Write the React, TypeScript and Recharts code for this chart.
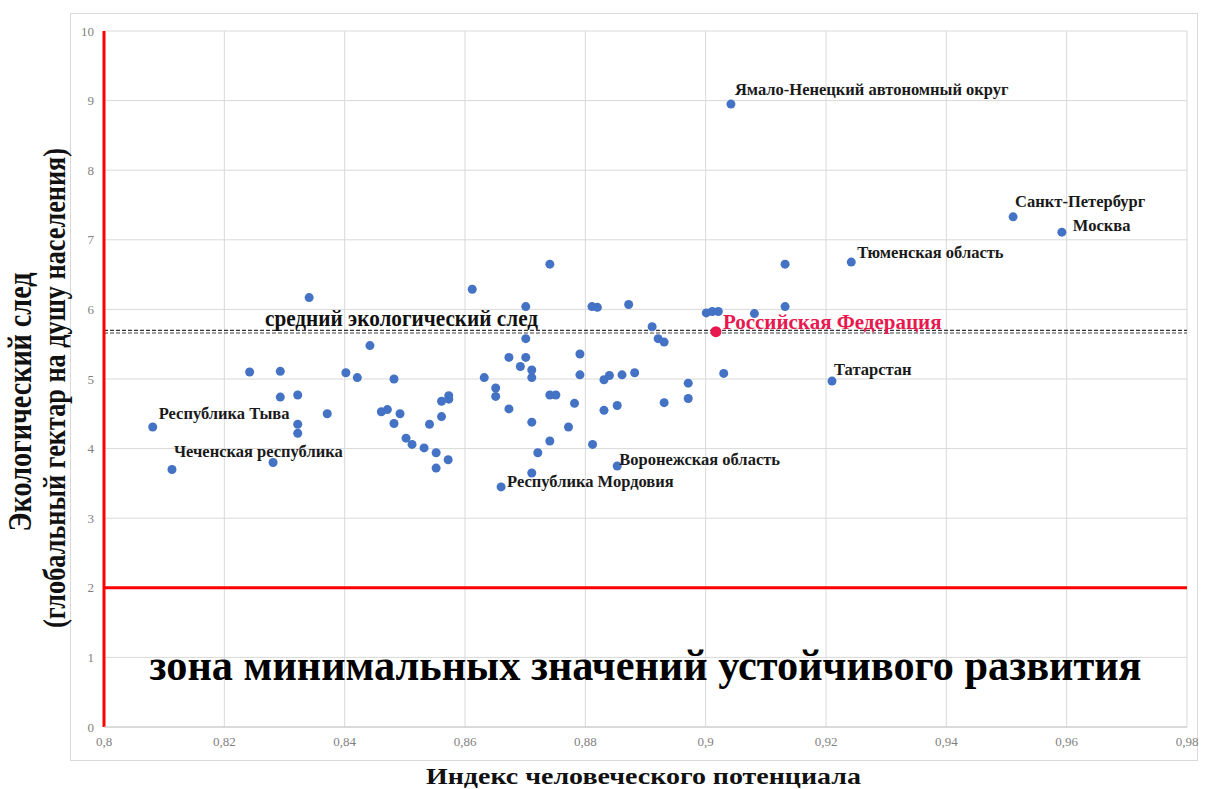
import { ScatterChart, Scatter, XAxis, YAxis, CartesianGrid, ReferenceLine } from 'recharts';

// индекс человеческого потенциала по регионам
const hdi = [
  0.8081, 0.8113, 0.8242, 0.8281, 0.8293, 0.8293, 0.8322, 0.8322, 0.8322, 0.8341,
  0.8371, 0.8402, 0.8421, 0.8442, 0.8482, 0.8461, 0.8471, 0.8492, 0.8482, 0.8502,
  0.8512, 0.8532, 0.8541, 0.8552, 0.8552, 0.8572, 0.8561, 0.8561, 0.8573, 0.8573,
  0.8612, 0.8741, 0.8701, 0.8811, 0.882, 0.8701, 0.8673, 0.8701, 0.8692, 0.8711,
  0.8711, 0.8791, 0.8791, 0.8632, 0.8651, 0.8651, 0.8673, 0.8741, 0.8751, 0.8782,
  0.8711, 0.8772, 0.8741, 0.8721, 0.8812, 0.8711, 0.866, 0.9132, 0.9242, 0.8872,
  0.8911, 0.8921, 0.8931, 0.9001, 0.9011, 0.9021, 0.9081, 0.9132, 0.8831, 0.884,
  0.8861, 0.8882, 0.903, 0.921, 0.8971, 0.8971, 0.8931, 0.8831, 0.8853, 0.8853,
  0.9042, 0.9511, 0.9592,
];

// экологический след, гга на душу населения
const footprint = [
  4.31, 3.7, 5.1, 3.8, 5.11, 4.74, 4.77, 4.35, 4.22, 6.17,
  4.5, 5.09, 5.02, 5.48, 5.0, 4.53, 4.56, 4.5, 4.36, 4.15,
  4.06, 4.01, 4.35, 3.94, 3.72, 3.84, 4.46, 4.68, 4.76, 4.71,
  6.29, 6.65, 6.04, 6.04, 6.03, 5.58, 5.31, 5.31, 5.18, 5.13,
  5.02, 5.36, 5.06, 5.02, 4.87, 4.75, 4.57, 4.77, 4.77, 4.65,
  4.38, 4.31, 4.11, 3.94, 4.06, 3.65, 3.45, 6.65, 6.68, 6.07,
  5.75, 5.58, 5.53, 5.95, 5.97, 5.97, 5.94, 6.04, 4.99, 5.05,
  5.06, 5.09, 5.08, 4.97, 4.94, 4.72, 4.66, 4.55, 4.62, 3.75,
  8.95, 7.33, 7.11,
];

const regionNames = [
  'Республика Тыва', 'Чеченская республика', '', '', '', '', '', '', '', '',
  '', '', '', '', '', '', '', '', '', '',
  '', '', '', '', '', '', '', '', '', '',
  '', '', '', '', '', '', '', '', '', '',
  '', '', '', '', '', '', '', '', '', '',
  '', '', '', '', '', '', 'Республика Мордовия', '', 'Тюменская область', '',
  '', '', '', '', '', '', '', '', '', '',
  '', '', '', 'Татарстан', '', '', '', '', '', 'Воронежская область',
  'Ямало-Ненецкий автономный округ', 'Санкт-Петербург', 'Москва',
];

const russiaHdi = [0.9017];
const russiaFootprint = [5.68];
const russiaName = ['Российская Федерация'];

const avgFootprint = [5.7, 5.66];
const minZoneLevel = 2;
const hdiMin = 0.8;

const xTicks = [0.8, 0.82, 0.84, 0.86, 0.88, 0.9, 0.92, 0.94, 0.96, 0.98];
const yTicks = [0, 1, 2, 3, 4, 5, 6, 7, 8, 9, 10];

const xTitle = 'Индекс человеческого потенциала';
const yTitle = ['Экологический след', '(глобальный гектар на душу населения)'];
const avgTitle = 'средний экологический след';
const zoneTitle = 'зона минимальных значений устойчивого развития';

const regions = hdi.map((x, i) => ({ x, y: footprint[i], name: regionNames[i] }));
const russia = russiaHdi.map((x, i) => ({ x, y: russiaFootprint[i], name: russiaName[i] }));

const serif = "'Liberation Serif', 'Times New Roman', serif";

// сдвиг подписи от точки
const labelOffsets: Record<string, { dx: number; dy: number }> = {
  'Республика Тыва': { dx: 6, dy: -8 },
  'Чеченская республика': { dx: 2, dy: -12 },
  'Республика Мордовия': { dx: 6, dy: 0 },
  'Тюменская область': { dx: 6, dy: -4 },
  'Татарстан': { dx: 2, dy: -6 },
  'Воронежская область': { dx: 2, dy: -1 },
  'Ямало-Ненецкий автономный округ': { dx: 4, dy: -9 },
  'Санкт-Петербург': { dx: 2, dy: -10 },
  'Москва': { dx: 11, dy: -1 },
  'Российская Федерация': { dx: 7, dy: -3 },
};

const RegionDot = (props: any) => {
  const { cx, cy, payload } = props;
  const off = labelOffsets[payload.name];
  return (
    <g>
      <circle cx={cx} cy={cy} r={4.5} fill="#4472c4" />
      {payload.name && off && (
        <text x={cx + off.dx} y={cy + off.dy} fontFamily={serif} fontSize={16.5} fontWeight="bold" fill="#1a1a1a">
          {payload.name}
        </text>
      )}
    </g>
  );
};

const RussiaDot = (props: any) => {
  const { cx, cy, payload } = props;
  const off = labelOffsets[payload.name];
  return (
    <g>
      <circle cx={cx} cy={cy} r={5.5} fill="#e8194f" />
      <text x={cx + off.dx} y={cy + off.dy} fontFamily={serif} fontSize={21} fontWeight="bold" fill="#e8194f">
        {payload.name}
      </text>
    </g>
  );
};

const fmt = (v: number) => String(v).replace('.', ',');

const App = () => {
  return (
    <div style={{ position: 'absolute', left: 0, top: 0, width: 1206, height: 789, background: '#fff' }}>
      <div
        style={{
          position: 'absolute',
          left: 70,
          top: 13,
          width: 1128,
          height: 748,
          border: '1px solid #d9d9d9',
          boxSizing: 'border-box',
        }}
      />
      <ScatterChart
        width={1206}
        height={789}
        margin={{ top: 31, right: 19, bottom: 22, left: 70 }}
        style={{ position: 'absolute', left: 0, top: 0 }}
      >
        <CartesianGrid stroke="#d9d9d9" />
        <XAxis
          type="number"
          dataKey="x"
          domain={[0.8, 0.98]}
          ticks={xTicks}
          tickFormatter={fmt}
          interval={0}
          height={40}
          tickLine={false}
          tickSize={6}
          tickMargin={4}
          axisLine={{ stroke: '#c8c8c8' }}
          tick={{ fill: '#7f7f7f', fontSize: 13, fontFamily: serif }}
          allowDataOverflow
          label={(p: any) => {
            const vb = p.viewBox;
            return (
              <text
                x={vb.x + vb.width / 2 - 2}
                y={vb.y + 57}
                textAnchor="middle"
                fontFamily={serif}
                fontSize={24}
                fontWeight="bold"
                fill="#111"
                textLength={435}
                lengthAdjust="spacingAndGlyphs"
              >
                {xTitle}
              </text>
            );
          }}
        />
        <YAxis
          type="number"
          dataKey="y"
          domain={[0, 10]}
          ticks={yTicks}
          interval={0}
          width={34}
          tickLine={false}
          axisLine={false}
          tickSize={6}
          tickMargin={4}
          tick={{ fill: '#7f7f7f', fontSize: 13, fontFamily: serif }}
          label={(p: any) => {
            const vb = p.viewBox;
            return (
              <g fontFamily={serif} fontWeight="bold" fill="#111">
                <text
                  x={vb.x - 39}
                  y={402}
                  transform={`rotate(-90, ${vb.x - 39}, 402)`}
                  textAnchor="middle"
                  fontSize={33}
                  textLength={259}
                  lengthAdjust="spacingAndGlyphs"
                >
                  {yTitle[0]}
                </text>
                <text
                  x={vb.x - 5}
                  y={388}
                  transform={`rotate(-90, ${vb.x - 5}, 388)`}
                  textAnchor="middle"
                  fontSize={32}
                  textLength={480}
                  lengthAdjust="spacingAndGlyphs"
                >
                  {yTitle[1]}
                </text>
              </g>
            );
          }}
        />
        <ReferenceLine
          y={avgFootprint[0]}
          stroke="#333"
          strokeWidth={1.2}
          strokeDasharray="4 2"
          label={(p: any) => {
            const vb = p.viewBox;
            return (
              <text
                x={vb.x + 161}
                y={vb.y - 4}
                fontFamily={serif}
                fontSize={23}
                fontWeight="bold"
                fill="#111"
                textLength={273}
                lengthAdjust="spacingAndGlyphs"
              >
                {avgTitle}
              </text>
            );
          }}
        />
        <ReferenceLine y={avgFootprint[1]} stroke="#808080" strokeWidth={1.5} strokeDasharray="4 2" />
        <ReferenceLine
          y={minZoneLevel}
          stroke="#ff0000"
          strokeWidth={3}
          label={(p: any) => {
            const vb = p.viewBox;
            return (
              <text
                x={vb.x + vb.width / 2}
                y={vb.y + 92}
                textAnchor="middle"
                fontFamily={serif}
                fontSize={45}
                fontWeight="bold"
                fill="#000"
                textLength={992}
                lengthAdjust="spacingAndGlyphs"
              >
                {zoneTitle}
              </text>
            );
          }}
        />
        <ReferenceLine x={hdiMin} stroke="#ff0000" strokeWidth={3} />
        <Scatter data={regions} shape={RegionDot} isAnimationActive={false} />
        <Scatter data={russia} shape={RussiaDot} isAnimationActive={false} />
      </ScatterChart>
    </div>
  );
};

export default App;
